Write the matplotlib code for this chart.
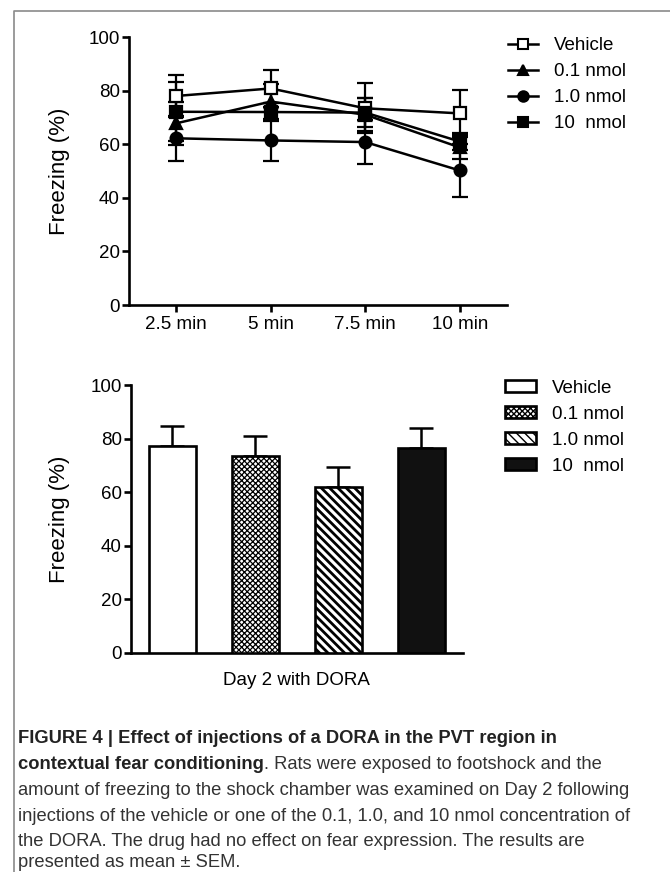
import numpy as np
import matplotlib
matplotlib.use('Agg')
import matplotlib.pyplot as plt
from matplotlib import font_manager
from matplotlib.lines import Line2D

# ---- data ----
times = ['2.5 min', '5 min', '7.5 min', '10 min']
groups = ['Vehicle', '0.1 nmol', '1.0 nmol', '10  nmol']

vehicle = [78.0, 80.8, 73.4, 71.5]
vehicle_sem = [7.8, 7.0, 9.3, 8.7]
dose_01 = [67.8, 75.9, 71.0, 58.8]
dose_01_sem = [8.0, 6.5, 6.2, 4.5]
dose_1 = [62.2, 61.4, 60.8, 50.2]
dose_1_sem = [8.4, 7.5, 8.1, 9.9]
dose_10 = [72.1, 72.0, 71.8, 61.0]
dose_10_sem = [11.0, 3.5, 5.5, 3.0]

day2_mean = [77.2, 73.6, 61.9, 76.3]
day2_sem = [7.3, 7.4, 7.5, 7.6]

yticks = [0, 20, 40, 60, 80, 100]

caption = [
    ('FIGURE 4 | Effect of injections of a DORA in the PVT region in', ''),
    ('contextual fear conditioning', '. Rats were exposed to footshock and the'),
    ('', 'amount of freezing to the shock chamber was examined on Day 2 following'),
    ('', 'injections of the vehicle or one of the 0.1, 1.0, and 10 nmol concentration of'),
    ('', 'the DORA. The drug had no effect on fear expression. The results are'),
    ('', 'presented as mean \u00b1 SEM.'),
]

W, H = 670, 872
fs = 13.5
plt.rcParams['font.family'] = ['Liberation Sans', 'DejaVu Sans']
plt.rcParams['font.size'] = fs

try:
    font_manager.findfont('Liberation Sans Narrow', fallback_to_default=False)
    cap_family = ['Liberation Sans Narrow', 'Liberation Sans', 'DejaVu Sans']
except Exception:
    cap_family = ['Liberation Sans', 'DejaVu Sans']

fig = plt.figure(figsize=(W / 100, H / 100), dpi=100)


def fx(px):
    return px / W


def fy(py):
    return 1 - py / H


def style_axis(ax):
    for s in ['top', 'right']:
        ax.spines[s].set_visible(False)
    for s in ['left', 'bottom']:
        ax.spines[s].set_linewidth(1.9)
    ax.tick_params(width=1.9, length=5, pad=1.5, labelsize=fs, color='k')
    ax.set_ylim(0, 100)
    ax.set_yticks(yticks)
    ax.set_xlim(-0.5, 3.5)


# ---- top: time course ----
ax1 = fig.add_axes([fx(129), fy(305), fx(507 - 129), (305 - 37) / H])
style_axis(ax1)
x = np.arange(len(times))
series = [
    (vehicle, vehicle_sem, 's', 'white'),
    (dose_01, dose_01_sem, '^', 'black'),
    (dose_1, dose_1_sem, 'o', 'black'),
    (dose_10, dose_10_sem, 's', 'black'),
]
handles = []
for (vals, sem, mk, face), lab in zip(series, groups):
    ax1.errorbar(x, vals, yerr=sem, fmt='none', ecolor='k', elinewidth=1.6,
                 capsize=5.5, capthick=1.6, zorder=2)
    ax1.plot(x, vals, color='k', lw=1.8, marker=mk, markersize=8.5 if mk != '^' else 9,
             markerfacecolor=face, markeredgecolor='k', markeredgewidth=1.6, zorder=3)
    handles.append(Line2D([], [], color='k', lw=1.8, marker=mk, markersize=7.5,
                          markerfacecolor=face, markeredgecolor='k', markeredgewidth=1.5))
ax1.set_xticks(x)
ax1.set_xticklabels(times)
ax1.tick_params(axis='x', pad=3)
ax1.set_ylabel('Freezing (%)', fontsize=16)
ax1.yaxis.set_label_coords((70 - 129) / 378, 0.5)
fig.legend(handles, groups, loc='upper left', bbox_to_anchor=(fx(508), fy(37)),
           frameon=False, fontsize=fs, handlelength=1.6, handletextpad=0.85,
           labelspacing=0.48, borderpad=0, borderaxespad=0)

# ---- bottom: day 2 bars ----
ax2 = fig.add_axes([fx(130.7), fy(652.7), fx(462.7 - 130.7), (652.7 - 385) / H])
style_axis(ax2)
ax2.set_xticks([])
bx = np.arange(len(groups))
bar_styles = [('white', ''), ('white', 'xxxxxx'), ('white', '\\\\\\\\'), ('#111111', '')]
hatch_lw = [1.0, 0.9, 2.0, 1.0]
bar_handles = []
for i, (face, hatch) in enumerate(bar_styles):
    with plt.rc_context({'hatch.linewidth': hatch_lw[i], 'hatch.color': 'k'}):
        b = ax2.bar(bx[i], day2_mean[i], width=0.57, color=face, edgecolor='k',
                    linewidth=1.9, hatch=hatch, zorder=3)
        bar_handles.append(b[0])
ax2.errorbar(bx, day2_mean, yerr=[np.zeros(len(day2_sem)), day2_sem], fmt='none',
             ecolor='k', elinewidth=1.8, capsize=8.6, capthick=1.8, zorder=2)
ax2.set_ylabel('Freezing (%)', fontsize=16)
ax2.yaxis.set_label_coords((70 - 130.7) / 332, 0.5)
ax2.text(0.5, (652.7 - 680) / (652.7 - 385), 'Day 2 with DORA', transform=ax2.transAxes,
         ha='center', va='center', fontsize=fs)
fig.legend(bar_handles, groups, loc='upper left', bbox_to_anchor=(fx(505), fy(380)),
           frameon=False, fontsize=fs, handlelength=1.65, handleheight=0.62,
           handletextpad=0.85, labelspacing=0.48, borderpad=0, borderaxespad=0)

# ---- frame and caption ----
cap = fig.add_axes([0, 0, 1, 1])
cap.set_xlim(0, W)
cap.set_ylim(H, 0)
cap.axis('off')
cap.plot([14, 14, W], [H, 11, 11], color='#8a8a8a', lw=1.2, solid_capstyle='butt')

# scale caption font to the measured width of the third line
probe = cap.text(0, 0, caption[2][1], family=cap_family, fontsize=14)
fig.canvas.draw()
wpx = probe.get_window_extent().width
probe.remove()
cfs = 14 * (632 - 18) / wpx

line_y = [738, 764, 790, 816, 841, 862]
for (bold, normal), yy in zip(caption, line_y):
    if bold:
        t = cap.text(18, yy, bold, family=cap_family, fontsize=cfs, fontweight='bold',
                     color='#222222', va='center')
        if normal:
            cap.annotate(normal, xy=(1, 0.5), xycoords=t, va='center', ha='left',
                         family=cap_family, fontsize=cfs, color='#333333')
    else:
        cap.text(18, yy, normal, family=cap_family, fontsize=cfs, color='#333333',
                 va='center')

fig.savefig('out.png', dpi=100)
